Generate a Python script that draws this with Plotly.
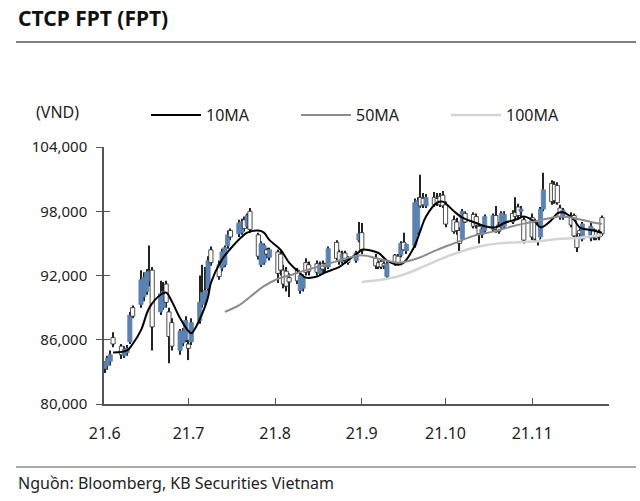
import pandas as pd
import plotly.graph_objects as go

# ---------------- data (prices in thousand VND) ----------------
holidays = ["2021-09-02", "2021-09-03"]
dates = [d for d in pd.bdate_range("2021-06-01", "2021-11-26") if d.strftime("%Y-%m-%d") not in holidays]

open_k = [
    # Jun
    83.3, 83.6, 84.0, 86.2, 85.4, 84.5, 84.8, 85.8, 89.0, 89.3, 90.0, 90.5, 91.5, 92.5, 88.6, 89.0, 91.2, 88.6, 87.6, 85.0, 85.7, 86.0,
    # Jul
    85.6, 85.8, 87.8, 89.3, 89.5, 90.8, 94.4, 93.0, 92.7, 93.0, 94.8, 96.2, 95.9, 96.0, 97.2, 96.6, 98.0, 95.8, 93.0, 93.2, 94.4, 93.7,
    # Aug
    94.2, 94.0, 92.5, 92.4, 91.8, 92.5, 90.6, 90.8, 93.2, 93.0, 93.1, 92.2, 93.1, 92.8, 92.8, 95.1, 94.2, 93.3, 94.1, 93.5, 93.4, 95.3,
    # Sep
    96.0, 93.6, 93.2, 93.3, 93.1, 91.9, 93.9, 93.8, 93.9, 95.1, 94.3, 94.8, 96.0, 99.3, 99.2, 98.5, 99.3, 99.2, 99.4, 99.5,
    # Oct
    98.6, 97.2, 97.0, 96.2, 95.4, 97.8, 97.7, 97.5, 96.6, 95.8, 96.2, 96.3, 97.6, 96.7, 96.5, 96.6, 97.8, 97.9, 98.4, 98.0, 97.2,
    # Nov
    97.4, 97.0, 96.8, 95.6, 98.2, 100.6, 100.5, 100.4, 98.3, 97.4, 97.6, 97.6, 95.6, 96.2, 95.4, 95.5, 96.2, 96.1, 96.0, 97.4,
]
high_k = [
    84.0, 84.5, 85.0, 86.7, 85.6, 85.4, 85.5, 88.6, 89.2, 92.5, 92.3, 92.6, 94.8, 92.8, 91.5, 91.4, 91.5, 89.0, 88.0, 87.0, 87.1, 88.2,
    86.0, 88.0, 92.0, 93.0, 92.8, 93.8, 94.7, 93.4, 94.5, 94.8, 96.2, 96.4, 97.2, 97.3, 97.5, 97.8, 98.3, 96.0, 95.2, 95.0, 94.6, 94.6,
    94.4, 94.4, 93.0, 92.8, 92.2, 92.7, 92.2, 92.1, 93.6, 93.3, 93.4, 93.3, 93.4, 93.2, 94.7, 95.3, 94.4, 94.3, 94.3, 93.8, 94.3, 97.0,
    96.9, 94.0, 93.4, 93.5, 93.3, 93.3, 94.0, 94.0, 95.2, 96.0, 95.0, 99.2, 99.3, 101.4, 99.7, 99.6, 99.8, 99.7, 99.7, 99.9,
    98.9, 97.6, 97.4, 96.5, 98.2, 98.0, 97.9, 97.8, 96.8, 96.5, 97.7, 97.8, 98.5, 97.0, 98.0, 98.0, 98.1, 99.3, 98.7, 98.5, 97.5,
    97.8, 97.3, 97.0, 98.4, 101.6, 100.9, 100.8, 100.7, 98.6, 98.3, 97.9, 97.8, 95.9, 96.4, 97.0, 96.9, 96.4, 96.3, 96.3, 97.6,
]
low_k = [
    82.9, 83.2, 83.6, 85.3, 84.2, 84.3, 84.5, 85.6, 88.0, 89.0, 89.6, 90.2, 91.0, 85.0, 88.3, 88.8, 89.0, 83.8, 85.0, 84.6, 85.4, 85.8,
    84.1, 85.5, 87.5, 89.0, 89.2, 90.5, 92.9, 91.6, 92.4, 92.8, 94.5, 95.3, 95.6, 95.8, 96.1, 96.4, 96.0, 93.5, 92.8, 93.0, 93.6, 93.4,
    91.3, 92.0, 90.8, 90.5, 90.0, 91.2, 90.3, 90.5, 92.0, 92.0, 92.0, 92.0, 92.2, 92.3, 92.6, 93.4, 93.0, 93.1, 93.1, 93.0, 93.2, 95.1,
    94.0, 92.6, 92.6, 92.6, 92.6, 91.7, 92.9, 93.0, 93.7, 94.3, 94.0, 94.6, 95.8, 98.3, 98.3, 98.3, 98.4, 98.5, 98.4, 98.3,
    96.5, 95.9, 95.8, 94.2, 95.2, 96.9, 96.4, 96.4, 95.0, 95.5, 96.0, 96.1, 96.0, 95.9, 96.3, 96.4, 96.8, 97.2, 97.3, 97.4, 95.0,
    95.3, 95.2, 94.8, 95.4, 98.0, 98.6, 98.7, 98.6, 97.2, 97.2, 96.5, 95.5, 94.2, 95.6, 95.2, 95.2, 95.3, 95.3, 95.3, 95.7,
]
close_k = [
    83.9, 84.3, 84.6, 85.6, 84.6, 85.1, 85.2, 88.3, 88.2, 91.6, 91.8, 92.3, 92.4, 87.2, 90.3, 90.5, 89.5, 86.3, 85.4, 86.8, 86.8, 87.8,
    85.2, 87.6, 89.5, 90.4, 90.6, 93.4, 93.2, 91.9, 94.2, 94.6, 95.8, 95.6, 96.9, 97.0, 96.4, 97.6, 96.3, 93.8, 95.0, 94.8, 94.0, 94.4,
    92.2, 92.5, 91.2, 91.0, 91.4, 91.5, 92.0, 91.9, 92.3, 92.4, 92.3, 93.0, 92.6, 93.0, 94.5, 93.6, 93.3, 94.0, 93.4, 93.2, 94.1, 95.9,
    94.3, 92.9, 92.8, 92.8, 92.9, 93.1, 93.1, 93.2, 95.0, 94.4, 94.9, 98.8, 99.0, 98.5, 98.6, 99.3, 98.6, 98.7, 98.6, 98.5,
    96.8, 96.1, 96.2, 95.0, 98.0, 97.0, 96.6, 96.7, 95.9, 96.3, 97.5, 97.6, 96.3, 96.1, 97.8, 97.7, 97.0, 97.5, 97.6, 98.2, 95.3,
    95.6, 95.4, 95.2, 98.2, 100.0, 98.9, 99.0, 98.8, 97.5, 98.1, 96.7, 95.7, 94.6, 95.9, 96.8, 96.6, 95.6, 95.5, 95.6, 95.9,
]

ma10_dates = ["2021-06-04", "2021-06-09", "2021-06-11", "2021-06-14", "2021-06-17", "2021-06-21", "2021-06-23",
              "2021-06-25", "2021-06-28", "2021-07-01", "2021-07-02", "2021-07-06", "2021-07-08", "2021-07-09",
              "2021-07-13", "2021-07-16", "2021-07-20", "2021-07-22", "2021-07-26", "2021-07-28", "2021-07-30",
              "2021-08-03", "2021-08-06", "2021-08-10", "2021-08-12", "2021-08-16", "2021-08-19", "2021-08-24",
              "2021-08-27", "2021-08-31", "2021-09-01", "2021-09-07", "2021-09-10", "2021-09-14", "2021-09-16",
              "2021-09-20", "2021-09-22", "2021-09-24", "2021-09-28", "2021-09-30", "2021-10-04", "2021-10-07",
              "2021-10-12", "2021-10-15", "2021-10-19", "2021-10-22", "2021-10-27", "2021-10-29", "2021-11-02",
              "2021-11-04", "2021-11-08", "2021-11-10", "2021-11-12", "2021-11-16", "2021-11-18", "2021-11-23",
              "2021-11-26"]
ma10_k = [84.8, 85.0, 85.6, 86.9, 89.0, 90.2, 90.4, 89.6, 88.0, 86.8, 86.6, 88.5, 90.0, 91.3, 93.5, 94.5, 95.6,
          96.0, 96.2, 96.0, 95.3, 94.4, 93.2, 92.2, 91.8, 91.9, 92.3, 92.8, 93.4, 94.2, 94.4, 94.1, 93.4, 93.0,
          93.2, 94.8, 96.2, 97.5, 98.8, 98.9, 98.0, 97.4, 96.9, 96.6, 96.5, 96.9, 97.3, 97.5, 97.0, 96.5, 97.2,
          97.8, 97.9, 97.2, 96.5, 96.2, 96.0]

ma50_dates = ["2021-07-14", "2021-07-19", "2021-07-23", "2021-07-28", "2021-08-02", "2021-08-06", "2021-08-12",
              "2021-08-19", "2021-08-25", "2021-09-01", "2021-09-08", "2021-09-14", "2021-09-17", "2021-09-22",
              "2021-09-28", "2021-10-04", "2021-10-11", "2021-10-18", "2021-10-25", "2021-11-01", "2021-11-08",
              "2021-11-12", "2021-11-17", "2021-11-22", "2021-11-26"]
ma50_k = [88.6, 89.2, 90.0, 91.0, 91.7, 92.0, 92.5, 93.0, 93.5, 93.9, 93.5, 93.2, 93.3, 93.7, 94.4, 95.0, 95.7,
          96.1, 96.6, 97.0, 97.4, 97.5, 97.3, 97.0, 96.8]

ma100_dates = ["2021-09-01", "2021-09-08", "2021-09-15", "2021-09-22", "2021-09-29", "2021-10-06", "2021-10-13",
               "2021-10-20", "2021-10-27", "2021-11-03", "2021-11-10", "2021-11-17", "2021-11-26"]
ma100_k = [91.4, 91.6, 92.0, 92.7, 93.5, 94.2, 94.7, 95.0, 95.1, 95.2, 95.4, 95.5, 95.8]

y_ticks = [80000, 86000, 92000, 98000, 104000]
x_tickvals = ["2021-06-01", "2021-07-01", "2021-08-01", "2021-09-01", "2021-10-01", "2021-11-01"]
x_ticktext = ["21.6", "21.7", "21.8", "21.9", "21.10", "21.11"]

# ---------------- derived candle pieces ----------------
o = [v * 1000 for v in open_k]
h = [v * 1000 for v in high_k]
lo = [v * 1000 for v in low_k]
c = [v * 1000 for v in close_k]
up = [ci > oi for oi, ci in zip(o, c)]
body_base = [min(oi, ci) for oi, ci in zip(o, c)]
body_len = [max(abs(ci - oi), 60) for oi, ci in zip(o, c)]
DAY_MS = 86400000

# ---------------- figure ----------------
W, H = 640, 501
L, R, T, B = 104, 31, 147, 97
PW, PH = W - L - R, H - T - B


def px(x):
    return (x - L) / PW


def py(y):
    return (H - B - y) / PH


FONT = "Noto Sans"
BLUE = "#5b82b0"
AXIS = "#555555"

fig = go.Figure()
# wicks (high-low range)
fig.add_trace(go.Bar(
    x=dates, base=lo, y=[hi - l for hi, l in zip(h, lo)], width=0.4 * DAY_MS,
    marker=dict(color="#222222", line=dict(width=0)), showlegend=False, hoverinfo="skip",
))
# bodies (open-close)
fig.add_trace(go.Bar(
    x=dates, base=body_base, y=body_len, width=1.5 * DAY_MS,
    marker=dict(color=[BLUE if u else "white" for u in up],
                line=dict(color=[BLUE if u else "#222222" for u in up], width=0.8)),
    showlegend=False, hoverinfo="skip",
))
fig.add_trace(go.Scatter(x=ma10_dates, y=[v * 1000 for v in ma10_k], name="10MA", mode="lines",
                         line=dict(color="#000000", width=2, shape="spline")))
fig.add_trace(go.Scatter(x=ma50_dates, y=[v * 1000 for v in ma50_k], name="50MA", mode="lines",
                         line=dict(color="#8c8c8c", width=2, shape="spline")))
fig.add_trace(go.Scatter(x=ma100_dates, y=[v * 1000 for v in ma100_k], name="100MA", mode="lines",
                         line=dict(color="#d4d4d4", width=2.5, shape="spline")))
# invisible trace to carry the inner half of the crossing y ticks
fig.add_trace(go.Scatter(x=[dates[0]], y=[y_ticks[0]], yaxis="y2", mode="markers",
                         marker=dict(opacity=0), showlegend=False, hoverinfo="skip"))

fig.update_layout(
    width=W, height=H, margin=dict(l=L, r=R, t=T, b=B, autoexpand=False),
    paper_bgcolor="white", plot_bgcolor="white",
    font=dict(family=FONT, size=14, color="#222222"),
    barmode="overlay",
    showlegend=True,
    legend=dict(orientation="h", x=px(146), y=py(115), xanchor="left", yanchor="middle",
                font=dict(size=16, color="#222222"), itemwidth=50, entrywidth=85,
                bgcolor="rgba(0,0,0,0)", tracegroupgap=0),
    xaxis=dict(type="date", range=["2021-05-31 18:00", "2021-11-28 12:00"],
               tickvals=x_tickvals, ticktext=x_ticktext,
               ticks="inside", ticklen=6, tickwidth=1.2, tickcolor=AXIS,
               showline=True, linecolor=AXIS, linewidth=1.5, showgrid=False, zeroline=False,
               ticklabelstandoff=14, tickfont=dict(size=16, color="#222222")),
    yaxis=dict(range=[80000, 104000], tickvals=y_ticks, tickformat=",",
               ticks="outside", ticklen=6, tickwidth=1.2, tickcolor=AXIS,
               showline=True, linecolor=AXIS, linewidth=1.5, showgrid=False, zeroline=False,
               ticklabelstandoff=6, tickfont=dict(size=15, color="#222222")),
    yaxis2=dict(range=[80000, 104000], tickvals=y_ticks, overlaying="y", side="left",
                ticks="inside", ticklen=6, tickwidth=1.2, tickcolor=AXIS,
                showticklabels=False, showline=False, showgrid=False, zeroline=False),
)

fig.add_shape(type="line", xref="paper", yref="paper", x0=px(16), x1=px(636), y0=py(42), y1=py(42),
              line=dict(color=AXIS, width=1.5))
fig.add_shape(type="line", xref="paper", yref="paper", x0=px(16), x1=px(636), y0=py(467), y1=py(467),
              line=dict(color=AXIS, width=1))

fig.add_annotation(text="<b>CTCP FPT (FPT)</b>", xref="paper", yref="paper", x=px(16), y=py(18),
                   xanchor="left", yanchor="middle", showarrow=False, font=dict(size=21, color="#111111"))
fig.add_annotation(text="(VND)", xref="paper", yref="paper", x=px(34), y=py(112),
                   xanchor="left", yanchor="middle", showarrow=False, font=dict(size=16, color="#222222"))
fig.add_annotation(text="Nguồn: Bloomberg, KB Securities Vietnam", xref="paper", yref="paper", x=px(16), y=py(483),
                   xanchor="left", yanchor="middle", showarrow=False, font=dict(size=16, color="#222222"))

fig.write_html("out.html", config={"displayModeBar": False},
               post_script="document.body.style.margin='0';")
